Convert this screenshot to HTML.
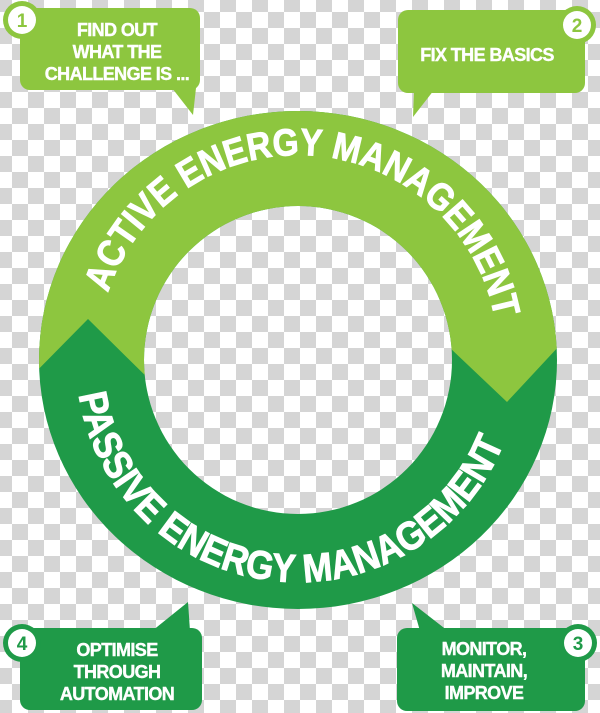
<!DOCTYPE html>
<html><head><meta charset="utf-8"><style>
html,body{margin:0;padding:0;}
body{width:600px;height:713px;overflow:hidden;background:repeating-conic-gradient(#d5d5d5 0 25%,#ffffff 0 50%) 12px 28px/32px 32px;}
svg{position:absolute;left:0;top:0;}
text{font-family:"Liberation Sans",sans-serif;font-weight:bold;fill:#fff;}
.ring{stroke:#fff;stroke-width:0.9;}
.b{stroke:#fff;stroke-width:0.4;}
</style></head><body>
<svg width="600" height="713" viewBox="0 0 600 713">
<defs>
<clipPath id="top"><polygon points="0,0 600,0 600,302 507,402 430,329 300,329 160,390 88,319 20,388 0,388"/></clipPath>
<path id="pt" d="M108,293 A200,200 0 0,1 497,334" fill="none"/>
<path id="pb" d="M78.7,394.7 A222,222 0 0,0 505.3,439.6" fill="none"/>
</defs>
<path fill="#1f9a48" fill-rule="evenodd" d="M39,360 a259,249 0 1,0 518,0 a259,249 0 1,0 -518,0 Z M144,360 a154,154 0 1,1 308,0 a154,154 0 1,1 -308,0 Z"/>
<path clip-path="url(#top)" fill="#8dc63f" fill-rule="evenodd" d="M39,360 a259,249 0 1,0 518,0 a259,249 0 1,0 -518,0 Z M144,360 a154,154 0 1,1 308,0 a154,154 0 1,1 -308,0 Z"/>
<text class="ring" font-size="38"><textPath href="#pt" textLength="528" lengthAdjust="spacingAndGlyphs">ACTIVE ENERGY MANAGEMENT</textPath></text>
<text class="ring" font-size="40"><textPath href="#pb" textLength="578" lengthAdjust="spacingAndGlyphs">PASSIVE ENERGY MANAGEMENT</textPath></text>

<!-- bubble 1 -->
<rect x="20" y="8" width="180" height="82" rx="10" fill="#8dc63f"/>
<polygon points="172,88 196,88 193,115" fill="#8dc63f"/>
<circle cx="22" cy="20" r="19" fill="#8dc63f"/><circle cx="22" cy="20" r="14" fill="#fff"/>
<text x="22" y="27" font-size="19" text-anchor="middle" style="fill:#8dc63f">1</text>
<text class="b" font-size="18" text-anchor="middle" letter-spacing="-0.6"><tspan x="117" y="36">FIND OUT</tspan><tspan x="117" y="58">WHAT THE</tspan><tspan x="117" y="80">CHALLENGE IS ...</tspan></text>

<!-- bubble 2 -->
<rect x="398" y="10" width="187" height="83" rx="10" fill="#8dc63f"/>
<polygon points="414,90 434,90 413,117" fill="#8dc63f"/>
<circle cx="577" cy="25" r="19" fill="#8dc63f"/><circle cx="577" cy="25" r="14" fill="#fff"/>
<text x="577" y="32" font-size="19" text-anchor="middle" style="fill:#8dc63f">2</text>
<text class="b" x="487" y="61" font-size="18" text-anchor="middle" letter-spacing="-0.6">FIX THE BASICS</text>

<!-- bubble 4 -->
<rect x="20" y="628" width="182" height="82" rx="10" fill="#1f9a48"/>
<polygon points="152,631 190,631 188,602" fill="#1f9a48"/>
<circle cx="22" cy="643" r="19" fill="#1f9a48"/><circle cx="22" cy="643" r="14" fill="#fff"/>
<text x="22" y="650" font-size="19" text-anchor="middle" style="fill:#1f9a48">4</text>
<text class="b" font-size="18" text-anchor="middle" letter-spacing="-0.6"><tspan x="117" y="656">OPTIMISE</tspan><tspan x="117" y="678">THROUGH</tspan><tspan x="117" y="700">AUTOMATION</tspan></text>

<!-- bubble 3 -->
<rect x="397" y="628" width="188" height="83" rx="10" fill="#1f9a48"/>
<polygon points="412,603 420,631 448,631" fill="#1f9a48"/>
<circle cx="578" cy="643" r="19" fill="#1f9a48"/><circle cx="578" cy="643" r="14" fill="#fff"/>
<text x="578" y="650" font-size="19" text-anchor="middle" style="fill:#1f9a48">3</text>
<text class="b" font-size="18" text-anchor="middle" letter-spacing="-0.6"><tspan x="484" y="655">MONITOR,</tspan><tspan x="484" y="677">MAINTAIN,</tspan><tspan x="484" y="699">IMPROVE</tspan></text>
</svg>
</body></html>
